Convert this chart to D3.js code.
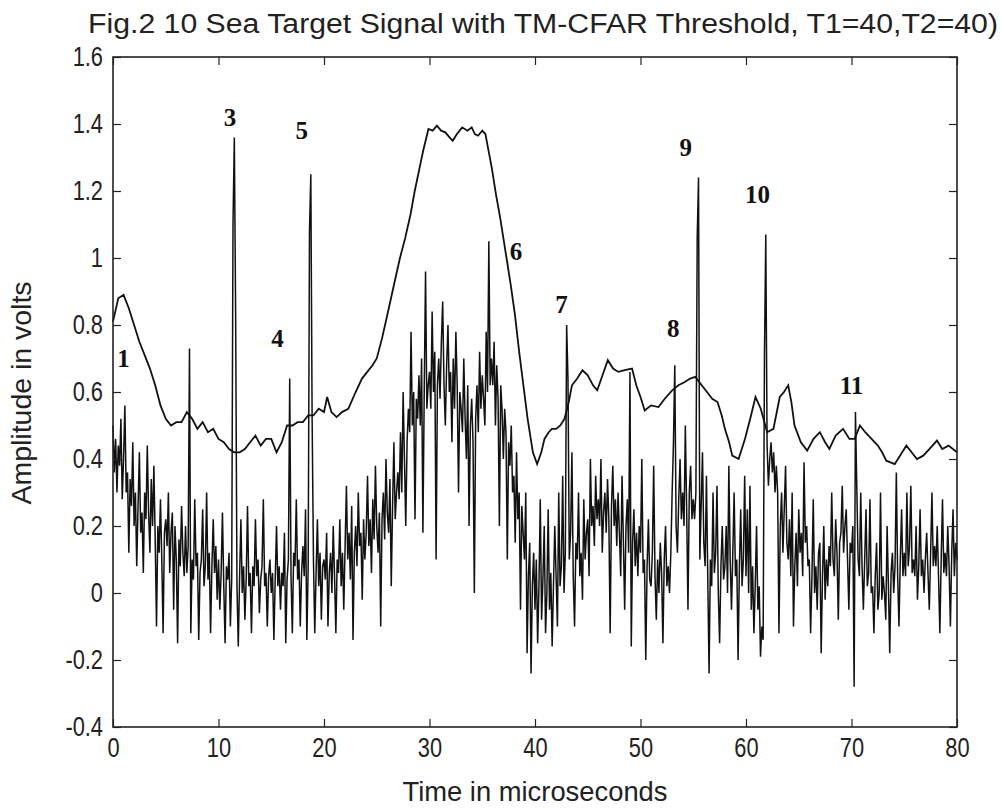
<!DOCTYPE html>
<html>
<head>
<meta charset="utf-8">
<script src="https://cdn.jsdelivr.net/npm/d3@7"></script>
<style>
  body { margin: 0; background: #fff; }
  svg { display: block; }
  .tick text { font-family: "Liberation Sans", Arial, sans-serif; font-size: 28px; fill: #222; }
</style>
</head>
<body>
<div class="grafico"></div>
<script>
const width = 1001, height = 811;

// signal samples, one every 0.125 us, one array per 10 us
const sampleStep = 0.125;
const sig00 = [0.50,0.36,0.46,0.30,0.44,0.38,0.52,0.28, 0.40,0.56,0.30,0.36,0.12,0.34,0.26,0.45,
  0.20,0.30,0.08,0.26,0.42,0.18,0.24,0.06, 0.30,0.22,0.44,0.24,0.12,0.34,0.20,0.38,
  0.16,-0.10,0.20,0.12,0.28,0.10,-0.12,0.18, 0.22,0.14,0.30,0.06,0.18,0.24,-0.05,0.20,
  0.10,-0.15,0.16,0.08,0.26,0.12,0.05,0.20, 0.06,0.14,0.73,-0.12,0.10,0.04,0.28,0.08,
  0.12,-0.14,0.06,0.10,0.25,0.02,0.08,0.30, 0.04,0.12,-0.12,0.08,0.22,0.06,0.14,-0.02];
const sig10 = [0.10,-0.05,0.06,0.24,0.02,-0.15,0.08,0.04, 0.12,-0.10,0.04,1.10,1.36,0.83,0.02,-0.16,
  0.05,0.22,0.00,0.08,-0.08,0.04,0.26,0.02, 0.06,-0.12,0.08,0.02,0.22,0.05,0.10,-0.06,
  0.04,0.08,0.28,0.02,0.06,-0.10,0.05,0.10, 0.00,0.06,-0.14,0.04,0.20,0.02,0.08,-0.05,
  0.06,0.02,0.18,-0.15,0.04,0.10,0.64,0.05, -0.12,0.12,0.08,0.28,0.04,0.10,-0.10,0.06,
  0.14,0.05,0.25,-0.14,0.08,1.08,1.25,0.52, 0.10,-0.12,0.06,0.22,0.02,0.12,-0.08,0.08];
const sig20 = [0.10,0.04,0.18,-0.10,0.06,0.12,0.00,0.20, 0.05,-0.12,0.10,0.06,0.22,0.02,0.12,-0.05,
  0.14,0.32,0.10,0.18,0.04,0.26,-0.14,0.12, 0.20,0.08,0.30,0.14,0.18,-0.02,0.22,0.10,
  0.18,0.35,0.14,0.22,0.06,0.28,0.16,0.38, 0.20,0.12,0.24,-0.10,0.22,0.30,0.16,0.40,
  0.24,0.18,0.34,0.02,0.26,0.45,0.22,0.30, 0.36,0.28,0.48,0.30,0.60,0.40,0.20,0.45,
  0.55,0.48,0.78,0.50,0.60,0.22,0.58,0.52, 0.65,0.50,0.70,0.18,0.60,0.96,0.55,0.62];
const sig30 = [0.66,0.55,0.84,0.60,0.72,0.10,0.62,0.70, 0.58,0.75,0.87,0.62,0.50,0.68,0.80,0.60,
  0.66,0.45,0.70,0.55,0.78,0.62,0.30,0.60, 0.55,0.48,0.70,0.52,0.40,0.62,0.20,0.50,
  0.58,0.45,0.00,0.52,0.62,0.48,0.72,0.55, 0.65,0.58,0.50,0.78,0.60,1.05,0.62,0.70,
  0.62,0.75,0.50,0.68,0.58,0.20,0.62,0.55, 0.40,0.55,0.48,0.10,0.45,0.38,0.50,0.30,
  0.35,0.15,0.42,0.22,0.30,-0.05,0.26,0.18, 0.10,0.30,-0.18,0.05,0.15,-0.24,0.02,0.12];
const sig40 = [-0.05,0.10,-0.15,0.02,0.28,-0.08,0.04,0.20, -0.12,0.00,0.25,-0.05,0.06,-0.16,0.02,0.20,
  0.05,-0.10,0.30,0.02,0.08,0.35,0.00,0.12, 0.80,0.64,0.10,0.18,0.42,0.05,-0.10,0.15,
  0.10,0.30,0.05,0.12,-0.02,0.28,0.10,0.18, 0.22,0.05,0.40,0.20,0.26,0.14,0.35,0.22,
  0.28,0.20,0.40,0.12,0.24,0.30,0.18,0.34, 0.22,-0.12,0.26,0.38,0.20,0.28,0.14,0.30,
  0.18,0.05,0.35,0.16,-0.05,0.20,0.28,0.12, 0.66,-0.16,0.15,0.25,0.08,0.18,0.05,0.20];
const sig50 = [0.12,0.40,0.06,0.10,-0.20,0.08,0.22,0.04, 0.02,0.12,0.38,0.05,-0.08,0.10,0.00,0.15,
  0.06,-0.15,0.10,0.20,0.02,0.08,0.00,0.12, 0.30,0.45,0.68,0.20,0.12,0.28,0.40,0.22,
  0.30,0.20,0.50,0.25,-0.05,0.30,0.38,0.22, 0.28,0.22,0.30,1.06,1.24,0.10,0.26,0.42,
  0.15,0.08,0.35,0.05,-0.24,0.10,0.02,0.30, 0.06,0.12,0.32,0.00,-0.15,0.08,0.20,0.04,
  0.08,0.20,0.00,0.38,0.10,-0.05,0.12,0.30, 0.05,0.10,-0.20,0.08,0.25,0.02,0.10,0.35];
const sig60 = [0.05,0.25,0.00,0.32,-0.05,0.08,-0.12,0.02, 0.20,-0.05,0.02,-0.19,-0.10,-0.14,0.71,1.07,
  0.44,0.32,0.40,0.45,0.36,0.42,0.30,0.38, 0.30,-0.12,0.20,0.30,0.12,0.25,0.38,0.15,
  0.10,0.22,0.05,0.30,-0.10,0.08,0.18,0.02, 0.25,0.12,0.18,0.05,0.39,0.15,0.20,0.08,
  0.10,-0.12,0.05,0.28,0.00,0.08,-0.05,0.12, 0.15,-0.18,0.05,0.20,-0.02,0.10,0.02,0.14,
  0.08,0.30,0.10,0.05,0.22,0.12,-0.08,0.15, 0.18,0.32,0.12,0.20,0.25,0.10,-0.05,0.15];
const sig70 = [0.12,0.20,-0.28,0.54,0.32,0.10,0.05,0.30, 0.08,-0.05,0.10,0.25,0.02,0.06,0.28,0.00,
  0.02,-0.12,0.05,0.15,-0.05,0.00,0.30,-0.02, 0.05,0.00,-0.08,0.20,0.02,-0.18,0.06,0.12,
  0.00,0.08,0.36,0.05,-0.10,0.10,0.25,0.05, 0.12,0.05,0.30,0.08,0.14,0.32,0.06,0.10,
  0.05,0.20,-0.02,0.08,0.25,0.05,0.10,0.00, 0.10,0.18,0.06,-0.05,0.12,0.30,0.08,0.14,
  0.08,0.20,0.05,-0.12,0.10,0.28,0.06,0.12, 0.05,0.20,0.08,-0.10,0.12,0.25,0.05,0.15];
const sigLast = [0.10];

// TM-CFAR threshold
const thrTime = [0,0.5,1,1.5,2,2.5,3,3.5,4,4.5,5,5.5,6,6.5,7,7.5,8,8.5,9,9.5,
  10,10.5,11,11.5,12,12.5,13,13.5,14,14.5,15,15.5,16,16.5,17,17.5,18,18.5,19,19.5,
  20,20.3,20.7,21.2,21.7,22.3,23,23.6,24.1,24.6,25,25.5,26,26.7,27.2,27.7,28.2,28.6,29,29.4,
  29.9,30.3,30.7,31.1,31.5,31.9,32.2,32.6,33.1,33.6,34,34.3,34.6,35,35.3,35.6,35.9,36.3,36.7,37,
  37.3,37.7,38.1,38.5,38.9,39.3,39.8,40.2,40.6,40.9,41.3,41.6,42,42.4,42.8,43.2,43.5,44,44.5,45,
  45.5,45.9,46.4,46.9,47.4,47.9,48.5,49.2,49.6,50,50.4,51,51.7,52.3,53,53.6,54.2,54.7,55.2,55.8,
  56.3,56.8,57.3,57.7,58,58.4,58.7,59.3,59.9,60.4,60.9,61.4,62,62.6,63.2,63.6,64,64.3,64.6,65.2,
  65.8,66.4,67,67.5,67.9,68.5,69.2,69.8,70.3,70.8,71.3,71.9,72.5,72.9,73.3,74.1,74.6,75.2,75.7,76.2,
  76.8,77.4,78.1,78.6,79.2,80];
const thrVolts = [0.81,0.88,0.89,0.85,0.80,0.75,0.71,0.67,0.62,0.56,0.52,0.50,0.51,0.51,0.54,0.52,0.49,0.51,0.48,0.49,
  0.46,0.45,0.43,0.42,0.42,0.43,0.45,0.47,0.44,0.46,0.46,0.42,0.45,0.50,0.50,0.51,0.51,0.53,0.53,0.55,
  0.54,0.585,0.54,0.525,0.54,0.55,0.60,0.64,0.66,0.68,0.70,0.76,0.83,0.93,1.00,1.06,1.13,1.20,1.26,1.32,
  1.385,1.38,1.395,1.38,1.375,1.36,1.35,1.37,1.39,1.38,1.39,1.37,1.365,1.38,1.37,1.32,1.27,1.19,1.12,1.06,
  1.00,0.92,0.83,0.72,0.62,0.52,0.42,0.385,0.42,0.46,0.48,0.49,0.49,0.50,0.52,0.57,0.62,0.64,0.665,0.65,
  0.62,0.605,0.65,0.695,0.67,0.66,0.665,0.67,0.62,0.585,0.545,0.56,0.555,0.58,0.605,0.62,0.63,0.64,0.645,0.62,
  0.60,0.58,0.57,0.53,0.49,0.45,0.41,0.40,0.46,0.52,0.585,0.55,0.48,0.49,0.585,0.60,0.62,0.57,0.50,0.45,
  0.425,0.46,0.48,0.45,0.43,0.47,0.49,0.46,0.46,0.50,0.48,0.46,0.44,0.42,0.395,0.385,0.41,0.44,0.42,0.40,
  0.41,0.43,0.455,0.43,0.44,0.42];

// target labels
const tgtNames = ["1","3","4","5","6","7","8","9","10","11"];
const tgtTime  = [1.0, 11.1, 15.6, 17.9, 38.2, 42.5, 53.1, 54.3, 61.1, 70.0];
const tgtVolts = [0.70, 1.42, 0.76, 1.38, 1.02, 0.86, 0.79, 1.33, 1.19, 0.62];

const xTicks = [0,10,20,30,40,50,60,70,80];
const yTicks = [-0.4,-0.2,0,0.2,0.4,0.6,0.8,1,1.2,1.4,1.6];

const signal = [].concat(sig00, sig10, sig20, sig30, sig40, sig50, sig60, sig70, sigLast)
  .map((v, i) => ({ t: i * sampleStep, v: v }));
const threshold = thrTime.map((t, i) => ({ t: t, v: thrVolts[i] }));

const svg = d3.select(".grafico")
  .append("svg")
  .attr("width", width)
  .attr("height", height);

svg.append("rect").attr("width", width).attr("height", height).attr("fill", "#fff");

const x = d3.scaleLinear().domain([0, 80]).range([113, 957]);
const y = d3.scaleLinear().domain([-0.4, 1.6]).range([727, 57]);

const line = d3.line().x(d => x(d.t)).y(d => y(d.v));

svg.append("path")
  .datum(signal)
  .attr("fill", "none")
  .attr("stroke", "#111")
  .attr("stroke-width", 1.5)
  .attr("d", line);

svg.append("path")
  .datum(threshold)
  .attr("fill", "none")
  .attr("stroke", "#111")
  .attr("stroke-width", 1.8)
  .attr("d", line);

// axes, ticks inside like matlab
const fmt = d => String(+d.toFixed(1));
svg.append("g").attr("class", "xax").attr("transform", "translate(0,727)")
  .call(d3.axisBottom(x).tickValues(xTicks).tickSizeInner(-8).tickSizeOuter(0).tickPadding(10).tickFormat(fmt));
svg.append("g").attr("class", "yax").attr("transform", "translate(113,0)")
  .call(d3.axisLeft(y).tickValues(yTicks).tickSizeInner(-8).tickSizeOuter(0).tickFormat(fmt));
svg.append("g").attr("transform", "translate(0,57)")
  .call(d3.axisTop(x).tickValues(xTicks).tickSizeInner(-8).tickSizeOuter(0).tickFormat(""));
svg.append("g").attr("transform", "translate(957,0)")
  .call(d3.axisRight(y).tickValues(yTicks).tickSizeInner(-8).tickSizeOuter(0).tickFormat(""));

svg.selectAll(".domain").remove();
svg.selectAll(".tick line").attr("stroke", "#222").attr("stroke-width", 1.2);
// narrow the tick labels
svg.selectAll(".xax .tick text").attr("transform", "scale(0.78,1)");
svg.selectAll(".yax .tick text").attr("x", 0).attr("transform", "translate(-10,0) scale(0.78,1)");

svg.append("rect")
  .attr("x", 113).attr("y", 57).attr("width", 844).attr("height", 670)
  .attr("fill", "none").attr("stroke", "#222").attr("stroke-width", 1.6);

// target numbers
svg.append("g").selectAll("text")
  .data(tgtNames)
  .join("text")
  .attr("x", (d, i) => x(tgtTime[i]))
  .attr("y", (d, i) => y(tgtVolts[i]))
  .attr("text-anchor", "middle")
  .attr("dominant-baseline", "central")
  .attr("font-family", "'Liberation Serif', 'Times New Roman', serif")
  .attr("font-weight", "bold")
  .attr("font-size", 25)
  .attr("fill", "#111")
  .text(d => d);

const sans = "'Liberation Sans', Arial, sans-serif";

svg.append("text")
  .attr("x", 88).attr("y", 33)
  .attr("font-family", sans).attr("font-size", 27).attr("fill", "#222")
  .attr("textLength", 910).attr("lengthAdjust", "spacingAndGlyphs")
  .text("Fig.2 10 Sea Target Signal with TM-CFAR Threshold, T1=40,T2=40)");

svg.append("text")
  .attr("x", 535).attr("y", 801)
  .attr("text-anchor", "middle")
  .attr("font-family", sans).attr("font-size", 28).attr("fill", "#222")
  .attr("textLength", 265).attr("lengthAdjust", "spacingAndGlyphs")
  .text("Time in microseconds");

svg.append("text")
  .attr("transform", "translate(31,393) rotate(-90)")
  .attr("text-anchor", "middle")
  .attr("font-family", sans).attr("font-size", 28).attr("fill", "#222")
  .attr("textLength", 223).attr("lengthAdjust", "spacingAndGlyphs")
  .text("Amplitude in volts");
</script>
</body>
</html>
